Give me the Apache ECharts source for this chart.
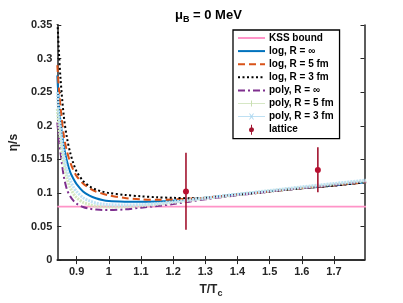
<!DOCTYPE html>
<html><head><meta charset="utf-8">
<script src="https://cdn.jsdelivr.net/npm/echarts@6/dist/echarts.min.js"></script>
<style>html,body{margin:0;padding:0;background:#fff}#c{width:403px;height:303px}</style>
</head><body><div id="c"></div>
<script>
// T/Tc grid
const xs      = [0.84, 0.845, 0.85, 0.86, 0.87, 0.88, 0.89, 0.9, 0.92, 0.94, 0.96, 0.98, 1.0, 1.05, 1.1, 1.15, 1.2, 1.25, 1.3, 1.4, 1.5, 1.6, 1.7, 1.8];
const logInf  = [0.275, 0.232, 0.205, 0.170, 0.147, 0.131, 0.121, 0.113, 0.102, 0.096, 0.092, 0.0895, 0.088, 0.087, 0.0868, 0.0873, 0.0885, 0.0905, 0.093, 0.098, 0.1025, 0.107, 0.111, 0.116];
const log5    = [0.290, 0.255, 0.228, 0.186, 0.162, 0.146, 0.134, 0.125, 0.114, 0.107, 0.102, 0.099, 0.0965, 0.0925, 0.0905, 0.0898, 0.0903, 0.0915, 0.093, 0.0975, 0.102, 0.107, 0.111, 0.116];
const log3    = [0.360, 0.310, 0.270, 0.215, 0.182, 0.160, 0.144, 0.132, 0.118, 0.110, 0.105, 0.102, 0.100, 0.097, 0.095, 0.0935, 0.0927, 0.0922, 0.0925, 0.097, 0.102, 0.107, 0.111, 0.116];
const polyInf = [0.205, 0.180, 0.160, 0.125, 0.105, 0.095, 0.0885, 0.084, 0.079, 0.0765, 0.0752, 0.0745, 0.0745, 0.0755, 0.078, 0.0805, 0.0835, 0.087, 0.0905, 0.0965, 0.102, 0.107, 0.112, 0.117];
const poly5   = [0.225, 0.200, 0.180, 0.145, 0.122, 0.108, 0.099, 0.093, 0.086, 0.0825, 0.0805, 0.0795, 0.079, 0.0795, 0.081, 0.083, 0.086, 0.089, 0.092, 0.0975, 0.103, 0.108, 0.113, 0.118];
const poly3   = [0.250, 0.215, 0.195, 0.158, 0.134, 0.119, 0.109, 0.102, 0.093, 0.088, 0.085, 0.0835, 0.0825, 0.082, 0.0825, 0.084, 0.0865, 0.0895, 0.0925, 0.098, 0.1035, 0.109, 0.114, 0.119];
const kssX    = [0.84, 1.8];
const kssY    = [0.0796, 0.0796];
const latT    = [1.24, 1.65];
const latEta  = [0.102, 0.134];
const latLo   = [0.045, 0.101];
const latHi   = [0.160, 0.168];
const xTicks  = [0.9, 1.0, 1.1, 1.2, 1.3, 1.4, 1.5, 1.6, 1.7];

const pair = (a, b) => a.map((v, i) => [v, b[i]]);
const axisCol = '#262626';
const font = 'Liberation Sans, Arial, sans-serif';

const chart = echarts.init(document.getElementById('c'), null, {renderer: 'canvas'});
const xCommon = {
  type: 'value', min: 0.84, max: 1.795,
  axisLine: {lineStyle: {color: axisCol, width: 1.5}},
  axisTick: {inside: true, length: 4, customValues: xTicks, lineStyle: {color: axisCol, width: 1}},
  splitLine: {show: false}
};
const yCommon = {
  type: 'value', min: 0, max: 0.35, interval: 0.05,
  axisLine: {show: true, lineStyle: {color: axisCol, width: 1.5}},
  axisTick: {show: true, inside: true, length: 4, lineStyle: {color: axisCol, width: 1}},
  splitLine: {show: false}
};
const lineBase = {type: 'line', showSymbol: false, symbol: 'none', animation: false, clip: true, z: 2};

const plusIcon = 'path://M0,3.5 H27 V4.3 H0 Z M13,1 H14 V7 H13 Z';
const crossIcon = 'path://M0,3.6 H27 V4.4 H0 Z M11,1 L12,1 L16,7 L15,7 Z M15,1 L16,1 L12,7 L11,7 Z';
const latIcon = 'path://M4.4,0 H5.6 V12 H4.4 Z M5,3 A3,3 0 1,1 4.99,3 Z';
const noSym = {opacity: 0};

chart.setOption({
  animation: false,
  grid: {left: 52, right: 38.5, top: 25, bottom: 40},
  title: {
    text: '{a|μ}{s|B}{a| = 0 MeV}',
    left: 170, top: 2,
    textStyle: {
      rich: {
        a: {fontFamily: font, fontSize: 13, fontWeight: 'bold', color: '#000', lineHeight: 17, verticalAlign: 'middle'},
        s: {fontFamily: font, fontSize: 9, fontWeight: 'bold', color: '#000', lineHeight: 8, verticalAlign: 'bottom'}
      }
    }
  },
  xAxis: [
    Object.assign({}, xCommon, {
      position: 'bottom',
      name: 'T/T{s|c}', nameLocation: 'middle', nameGap: 24,
      nameTextStyle: {fontFamily: font, fontSize: 12, fontWeight: 'bold', color: axisCol, lineHeight: 16, verticalAlign: 'middle',
        rich: {s: {fontFamily: font, fontSize: 9, fontWeight: 'bold', color: axisCol, lineHeight: 7, verticalAlign: 'bottom'}}},
      axisLabel: {customValues: xTicks, fontFamily: font, fontSize: 11, fontWeight: 'bold', color: axisCol, margin: 6,
        formatter: v => String(+(+v).toFixed(1))}
    }),
    Object.assign({}, xCommon, {position: 'top', axisLabel: {show: false}})
  ],
  yAxis: [
    Object.assign({}, yCommon, {
      position: 'left',
      name: 'η/s', nameLocation: 'middle', nameGap: 34,
      nameTextStyle: {fontFamily: font, fontSize: 12, fontWeight: 'bold', color: axisCol},
      axisLabel: {fontFamily: font, fontSize: 11, fontWeight: 'bold', color: axisCol, margin: 5}
    }),
    Object.assign({}, yCommon, {position: 'right', axisLabel: {show: false}})
  ],
  legend: {
    orient: 'vertical', left: 233, top: 30,
    width: 106,
    padding: [3, 6, 4, 4],
    itemWidth: 27, itemHeight: 10, itemGap: 3.1,
    backgroundColor: '#fff', borderColor: '#000', borderWidth: 1.3,
    textStyle: {fontFamily: font, fontSize: 10, fontWeight: 'bold', color: '#000', padding: [0, 0, 0, -1]},
    selectedMode: false,
    data: [
      {name: 'KSS bound', itemStyle: noSym},
      {name: 'log, R = ∞', itemStyle: noSym},
      {name: 'log, R = 5 fm', itemStyle: noSym},
      {name: 'log, R = 3 fm', itemStyle: noSym},
      {name: 'poly, R = ∞', itemStyle: noSym},
      {name: 'poly, R = 5 fm', icon: plusIcon},
      {name: 'poly, R = 3 fm', icon: crossIcon},
      {name: 'lattice', icon: latIcon}
    ]
  },
  series: [
    Object.assign({}, lineBase, {name: 'KSS bound', data: pair(kssX, kssY), color: '#ff94c8', lineStyle: {color: '#ff94c8', width: 1.6}}),
    Object.assign({}, lineBase, {name: 'log, R = ∞', data: pair(xs, logInf), color: '#0072BD', smooth: 0.3, lineStyle: {color: '#0072BD', width: 2}}),
    Object.assign({}, lineBase, {name: 'log, R = 5 fm', data: pair(xs, log5), color: '#D95319', smooth: 0.3, lineStyle: {color: '#D95319', width: 2, type: [7, 4]}}),
    Object.assign({}, lineBase, {name: 'log, R = 3 fm', data: pair(xs, log3), color: '#000', smooth: 0.3, lineStyle: {color: '#000', width: 2, type: [2, 2.5]}}),
    Object.assign({}, lineBase, {name: 'poly, R = ∞', data: pair(xs, polyInf), color: '#7E2F8E', smooth: 0.3, lineStyle: {color: '#7E2F8E', width: 2, type: [7, 3, 2, 3]}}),
    Object.assign({}, lineBase, {name: 'poly, R = 5 fm', data: pair(xs, poly5), color: '#c9dfb2', smooth: 0.3, lineStyle: {color: '#d4e8c0', width: 3, type: [2, 1]}}),
    Object.assign({}, lineBase, {name: 'poly, R = 3 fm', data: pair(xs, poly3), color: '#a9d6f0', smooth: 0.3, lineStyle: {color: '#bfe2f5', width: 3, type: [2, 1]}}),
    {
      type: 'custom', name: 'lattice', color: '#A2142F', z: 5,
      data: latT.map((t, i) => [t, latEta[i], latLo[i], latHi[i]]),
      renderItem: function (params, api) {
        const x = api.value(0);
        const p1 = api.coord([x, api.value(2)]);
        const p2 = api.coord([x, api.value(3)]);
        const pc = api.coord([x, api.value(1)]);
        return {type: 'group', children: [
          {type: 'line', shape: {x1: p1[0], y1: p1[1], x2: p2[0], y2: p2[1]}, style: {stroke: '#A2142F', lineWidth: 1.6}},
          {type: 'circle', shape: {cx: pc[0], cy: pc[1], r: 3}, style: {fill: '#B81030'}}
        ]};
      },
      encode: {x: 0, y: [1, 2, 3]}
    }
  ]
});
</script></body></html>
